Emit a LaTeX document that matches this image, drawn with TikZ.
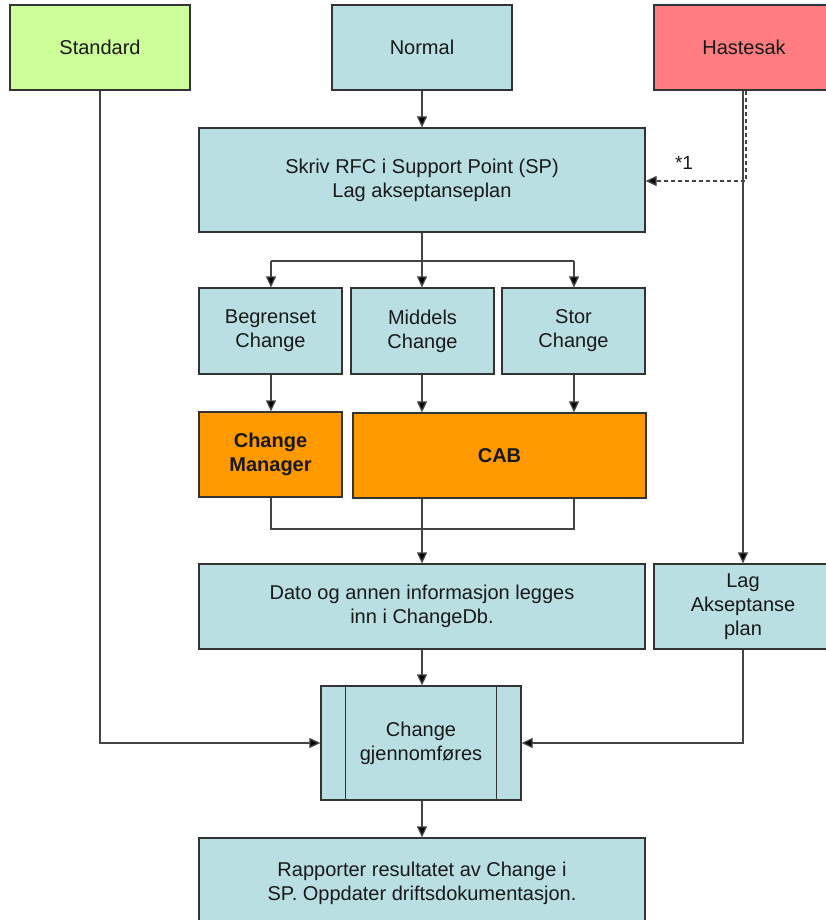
\documentclass[tikz,border=0pt]{standalone}
\usepackage{fontspec}
\setmainfont{Liberation Sans}
\usetikzlibrary{arrows.meta}
\definecolor{bluefill}{HTML}{B9DFE3}
\definecolor{greenfill}{HTML}{CCFF99}
\definecolor{redfill}{HTML}{FF7C80}
\definecolor{orangefill}{HTML}{FF9900}
\definecolor{linec}{HTML}{333333}
\definecolor{connc}{HTML}{444444}
\begin{document}
\begin{tikzpicture}[x=1pt,y=-1pt,
  box/.style={draw=linec, line width=1.3pt, inner sep=0pt, align=center,
    font=\fontsize{20}{24}\selectfont, text=black!90},
  bluebox/.style={box, fill=bluefill},
  orangebox/.style={box, fill=orangefill, font=\fontsize{20}{24}\selectfont\bfseries},
  tip/.style={-{Triangle[length=11pt,width=10pt,fill=black]}},
  conn/.style={draw=connc, line width=1.3pt},
  arr/.style={conn, tip}]
\useasboundingbox (0,0) rectangle (826,920);
\fill[white] (0,0) rectangle (826,920);

\node[box, fill=greenfill, minimum width=180, minimum height=85] (std) at (100,47.5) {Standard};
\node[bluebox, minimum width=180, minimum height=85] (nor) at (422,47.5) {Normal};
\node[box, fill=redfill, minimum width=180, minimum height=85] (has) at (744,47.5) {Hastesak};

\node[bluebox, minimum width=446, minimum height=104] (rfc) at (422,180) {Skriv RFC i Support Point (SP)\\Lag akseptanseplan};

\node[bluebox, minimum width=143, minimum height=86] (beg) at (270.5,331) {Begrenset\\Change};
\node[bluebox, minimum width=143, minimum height=86] (mid) at (422.5,331) {Middels\\Change};
\node[bluebox, minimum width=143, minimum height=86] (sto) at (573.5,331) {Stor\\Change};

\node[orangebox, minimum width=143, minimum height=85] (cm) at (270.5,454.5) {Change\\Manager};
\node[orangebox, minimum width=293, minimum height=85] (cab) at (499.5,455.5) {CAB};

\node[bluebox, minimum width=446, minimum height=85] (dat) at (422,606.5) {Dato og annen informasjon legges\\inn i ChangeDb.};
\node[bluebox, minimum width=178, minimum height=85] (lag) at (743,606.5) {Lag\\Akseptanse\\plan};

\node[bluebox, minimum width=200, minimum height=114] (chg) at (421,743) {Change\\gjennomføres};
\draw[linec, line width=1.3pt] ([xshift=25]chg.north west) -- ([xshift=25]chg.south west)
  ([xshift=-25]chg.north east) -- ([xshift=-25]chg.south east);

\node[bluebox, minimum width=446, minimum height=90] (rap) at (422,883) {Rapporter resultatet av Change i\\SP. Oppdater driftsdokumentasjon.};

% connectors
\draw[arr] (std.south) |- (chg.west);
\draw[arr] (nor.south) -- (rfc.north);
\draw[conn] (rfc.south) -- (422,261) coordinate (split);
\draw[conn] (271,261) -- (574,261);
\draw[arr] (271,261) -- (beg.north -| 271,0);
\draw[arr] (split) -- (mid.north -| 422,0);
\draw[arr] (574,261) -- (sto.north -| 574,0);
\draw[arr] (beg.south -| 271,0) -- (cm.north -| 271,0);
\draw[arr] (mid.south -| 422,0) -- (cab.north -| 422,0);
\draw[arr] (sto.south -| 574,0) -- (cab.north -| 574,0);
\draw[conn] (cm.south -| 271,0) |- (574,529) coordinate (mr) -- (cab.south -| 574,0);
\draw[arr] (cab.south -| 422,0) -- (dat.north -| 422,0);
\draw[arr] (dat.south -| 422,0) -- (chg.north -| 422,0);
\draw[arr] (chg.south -| 422,0) -- (rap.north -| 422,0);
\draw[arr] (has.south -| 743,0) -- (lag.north -| 743,0);
\draw[arr] (lag.south -| 743,0) |- (chg.east);
\draw[conn, dash pattern=on 4pt off 3pt, tip] (has.south -| 746,0) |- (rfc.east |- 0,181) coordinate (rfcin);
\node[font=\fontsize{19}{22}\selectfont, text=black!90] (star) at (684,163) {*1};
\end{tikzpicture}
\end{document}
